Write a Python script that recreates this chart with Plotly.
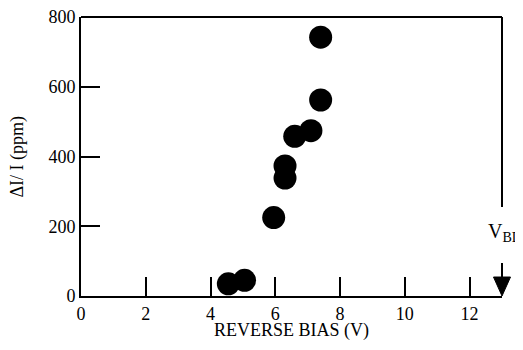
import plotly.graph_objects as go

# Data
reverse_bias_v = [4.55, 5.05, 5.95, 6.3, 6.3, 6.6, 7.1, 7.4, 7.4]
delta_i_ppm = [35, 45, 225, 338, 373, 458, 474, 562, 742]
x_ticks = [0, 2, 4, 6, 8, 10, 12]
y_ticks = [0, 200, 400, 600, 800]
VBD = 13

FONT = "Liberation Serif"

fig = go.Figure()
fig.add_trace(go.Scatter(
    x=reverse_bias_v, y=delta_i_ppm, mode="markers",
    marker=dict(size=23, color="black", line=dict(width=0)),
    showlegend=False, hoverinfo="skip",
))

# page body has an 8px margin, so the figure is 8px smaller than the window
fig.update_layout(
    width=515, height=342,
    margin=dict(l=73, r=21, t=9, b=54, autoexpand=False),
    paper_bgcolor="white", plot_bgcolor="white",
    font=dict(family=FONT, size=18, color="black"),
    xaxis=dict(
        range=[0, VBD], tickvals=x_ticks, ticktext=[str(v) for v in x_ticks],
        ticks="inside", ticklen=19, tickwidth=2, tickcolor="black",
        showline=True, linewidth=2, linecolor="black",
        showgrid=False, zeroline=False, automargin=False,
        ticklabeloverflow="allow",
        tickfont=dict(size=18, family=FONT, color="black"),
    ),
    yaxis=dict(
        range=[0, 800], tickvals=y_ticks, ticktext=[str(v) for v in y_ticks],
        ticks="inside", ticklen=19, tickwidth=2, tickcolor="black",
        showline=True, linewidth=2, linecolor="black",
        showgrid=False, zeroline=False, automargin=False,
        ticklabeloverflow="allow",
        tickfont=dict(size=18, family=FONT, color="black"),
    ),
    shapes=[
        dict(type="line", xref="paper", yref="paper", x0=0, x1=1, y0=1, y1=1,
             line=dict(color="black", width=2)),
        dict(type="line", xref="paper", yref="paper", x0=1, x1=1, y0=1, y1=0.319,
             line=dict(color="black", width=2)),
        dict(type="line", xref="paper", yref="paper", x0=1, x1=1, y0=0.118, y1=0.06,
             line=dict(color="black", width=2)),
        dict(type="path", xref="paper", yref="paper",
             path="M 0.9798 0.068 L 1.0202 0.068 L 1 0 Z",
             fillcolor="black", line=dict(color="black", width=1)),
    ],
    annotations=[
        dict(text="REVERSE BIAS (V)", xref="paper", yref="paper", x=0.5, y=-0.122,
             xanchor="center", yanchor="middle", showarrow=False,
             font=dict(size=18, family=FONT)),
        dict(text="ΔI/ I (ppm)", xref="paper", yref="paper", x=-0.152, y=0.5,
             xanchor="center", yanchor="middle", showarrow=False, textangle=-90,
             font=dict(size=18, family=FONT)),
        dict(text="V<sub>BD</sub>", xref="paper", yref="paper", x=0.962, y=0.228,
             xanchor="left", yanchor="middle", showarrow=False,
             font=dict(size=20, family=FONT)),
    ],
)

fig.write_html("out.html")
